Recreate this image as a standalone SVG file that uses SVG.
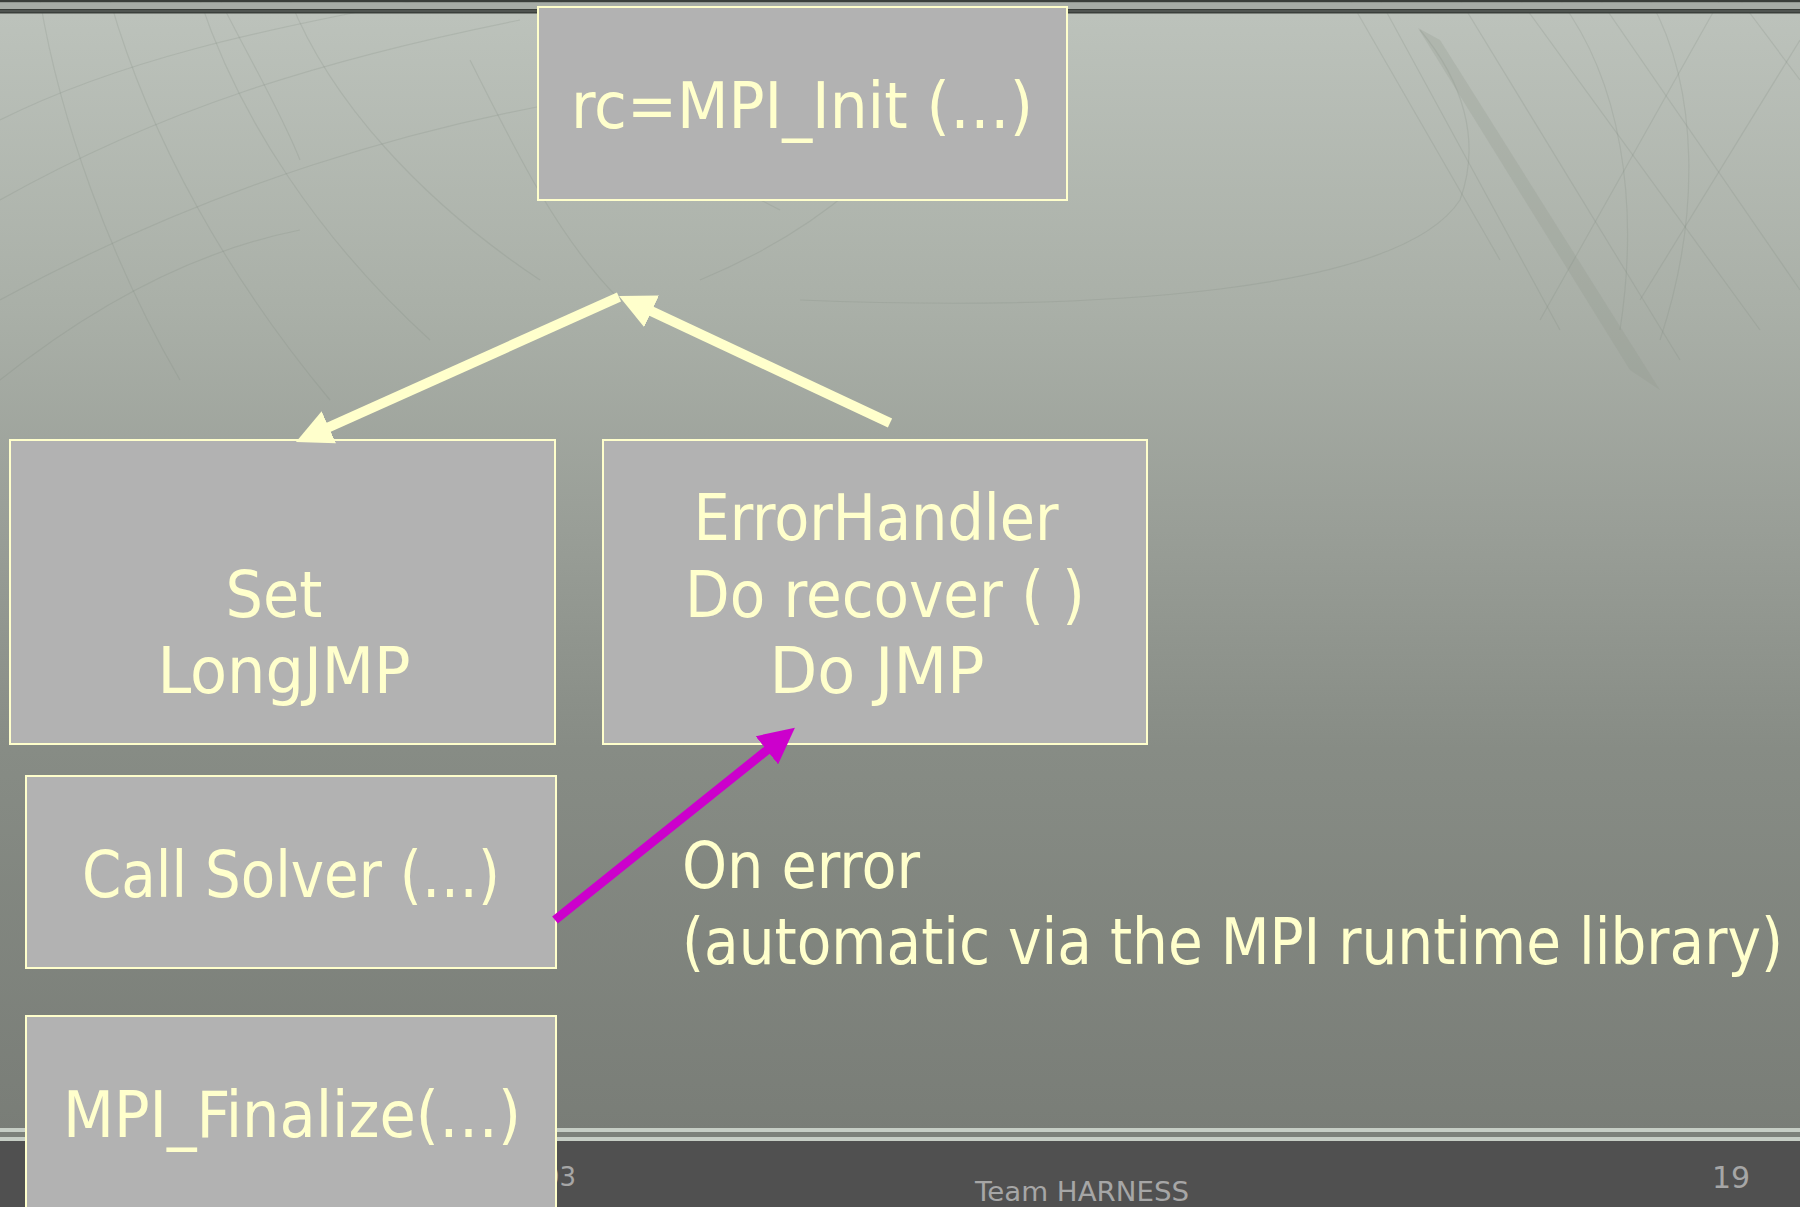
<svg xmlns="http://www.w3.org/2000/svg" width="1800" height="1207" viewBox="0 0 1800 1207">
  <defs>
    <linearGradient id="bg" x1="0" y1="0" x2="0" y2="1207" gradientUnits="userSpaceOnUse">
      <stop offset="0" stop-color="#bdc3bc"/>
      <stop offset="0.25" stop-color="#aab0a8"/>
      <stop offset="0.45" stop-color="#989d96"/>
      <stop offset="0.62" stop-color="#878c85"/>
      <stop offset="0.94" stop-color="#797d77"/>
      <stop offset="1" stop-color="#797d77"/>
    </linearGradient>
    <marker id="headYellow" viewBox="0 -18 36 36" refX="16" refY="0" markerWidth="36" markerHeight="36" markerUnits="userSpaceOnUse" orient="auto">
      <path d="M0,-17.5 L36,0 L0,17.5 Z" fill="#ffffcc"/>
    </marker>
    <marker id="headMagenta" viewBox="0 -18 36 36" refX="16" refY="0" markerWidth="36" markerHeight="36" markerUnits="userSpaceOnUse" orient="auto">
      <path d="M0,-18 L36,0 L0,18 Z" fill="#cc00cc"/>
    </marker>
  </defs>
  <style>
    .box { fill: #b2b2b2; stroke: #ffffcc; stroke-width: 2; }
    .lbl { font-family: "DejaVu Sans Condensed", "DejaVu Sans", "Liberation Sans", sans-serif; font-stretch: condensed; font-size: 64px; fill: #ffffcc; }
    .mid { text-anchor: middle; }
    .foot { font-family: "DejaVu Sans", "Liberation Sans", sans-serif; fill: #a6a6a6; }
    .web { fill: none; stroke: #7e867c; stroke-width: 1.2; opacity: 0.2; }
    .yarrow { stroke: #ffffcc; stroke-width: 10; fill: none; marker-end: url(#headYellow); }
    .marrow { stroke: #cc00cc; stroke-width: 9; fill: none; marker-end: url(#headMagenta); }
  </style>

  <!-- slide background -->
  <rect x="0" y="0" width="1800" height="1207" fill="url(#bg)"/>

  <!-- faint web ornament -->
  <g id="ornament">
    <path class="web" d="M800,300 C1100,312 1400,292 1460,200 C1482,140 1462,80 1420,30"/>
    <path d="M1418,28 L1440,40 L1660,390 L1630,370 Z" fill="#8f978d" opacity="0.25"/>
    <path class="web" d="M1350,0 L1500,260"/>
    <path class="web" d="M1380,0 L1560,330"/>
    <path class="web" d="M1460,0 L1680,360"/>
    <path class="web" d="M1520,0 L1760,330"/>
    <path class="web" d="M1600,0 L1800,290"/>
    <path class="web" d="M1740,0 L1800,80"/>
    <path class="web" d="M1720,0 L1540,320"/>
    <path class="web" d="M1800,40 L1640,300"/>
    <path class="web" d="M1560,0 C1620,80 1640,200 1620,330"/>
    <path class="web" d="M1650,0 C1700,90 1700,220 1660,340"/>
    <path class="web" d="M0,120 C120,60 260,30 420,0"/>
    <path class="web" d="M0,200 C160,110 320,60 520,20"/>
    <path class="web" d="M40,0 C60,120 110,260 180,380"/>
    <path class="web" d="M110,0 C150,140 230,280 330,400"/>
    <path class="web" d="M200,0 C240,120 320,240 430,340"/>
    <path class="web" d="M290,0 C330,100 420,200 540,280"/>
    <path class="web" d="M0,300 C200,190 420,120 640,90"/>
    <path class="web" d="M470,60 C520,160 560,240 620,300"/>
    <path class="web" d="M560,0 C600,90 680,160 780,210"/>
    <path class="web" d="M0,380 C100,300 200,250 300,230"/>
    <path class="web" d="M220,0 C250,60 280,110 300,160"/>
    <path class="web" d="M700,280 C820,230 900,160 960,60"/>
  </g>

  <!-- header rules -->
  <rect x="0" y="0" width="1800" height="2.5" fill="#3a3f3b"/>
  <rect x="0" y="2.5" width="1800" height="6.5" fill="#a7ada7"/>
  <rect x="0" y="9" width="1800" height="4.5" fill="#3a3f3b"/>
  <rect x="0" y="10.5" width="1800" height="1" fill="#656b66"/>

  <!-- footer band -->
  <rect x="0" y="1128" width="1800" height="4" fill="#c6cec5"/>
  <rect x="0" y="1132" width="1800" height="5" fill="#7c817a"/>
  <rect x="0" y="1137" width="1800" height="4" fill="#c6cec5"/>
  <rect x="0" y="1141" width="1800" height="66" fill="#505050"/>
  <text class="foot" x="576" y="1186" font-size="26" text-anchor="end">03</text>
  <text class="foot mid" x="1082" y="1201" font-size="26" textLength="214" lengthAdjust="spacingAndGlyphs">Team HARNESS</text>
  <text class="foot mid" x="1731" y="1188" font-size="30">19</text>

  <!-- nodes -->
  <g id="mpi-init">
    <rect class="box" x="538" y="7" width="529" height="193"/>
    <text class="lbl mid" x="802" y="128" textLength="462" lengthAdjust="spacingAndGlyphs">rc=MPI_Init (…)</text>
  </g>
  <g id="set-longjmp">
    <rect class="box" x="10" y="440" width="545" height="304"/>
    <text class="lbl mid" x="274" y="617" textLength="97" lengthAdjust="spacingAndGlyphs">Set</text>
    <text class="lbl mid" x="284" y="693" textLength="253" lengthAdjust="spacingAndGlyphs">LongJMP</text>
  </g>
  <g id="error-handler">
    <rect class="box" x="603" y="440" width="544" height="304"/>
    <text class="lbl mid" x="876" y="540" textLength="365" lengthAdjust="spacingAndGlyphs">ErrorHandler</text>
    <text class="lbl mid" x="885" y="617" textLength="400" lengthAdjust="spacingAndGlyphs">Do recover ( )</text>
    <text class="lbl mid" x="877" y="693" textLength="215" lengthAdjust="spacingAndGlyphs">Do JMP</text>
  </g>
  <g id="call-solver">
    <rect class="box" x="26" y="776" width="530" height="192"/>
    <text class="lbl mid" x="291" y="897" textLength="418" lengthAdjust="spacingAndGlyphs">Call Solver (…)</text>
  </g>
  <g id="mpi-finalize">
    <rect class="box" x="26" y="1016" width="530" height="200"/>
    <text class="lbl mid" x="292" y="1137" textLength="458" lengthAdjust="spacingAndGlyphs">MPI_Finalize(…)</text>
  </g>

  <!-- annotation -->
  <g id="on-error-note">
    <text class="lbl" x="682" y="888" textLength="238" lengthAdjust="spacingAndGlyphs">On error</text>
    <text class="lbl" x="682" y="964" textLength="1101" lengthAdjust="spacingAndGlyphs">(automatic via the MPI runtime library)</text>
  </g>

  <!-- connectors -->
  <g id="connectors">
    <!-- init -> set longjmp -->
    <line class="yarrow" x1="619" y1="297" x2="314.2" y2="433.8"/>
    <!-- error handler -> init -->
    <line class="yarrow" x1="890" y1="423" x2="637.1" y2="304.5"/>
    <!-- solver error -> error handler -->
    <line class="marrow" x1="555" y1="920" x2="779.3" y2="740.3"/>
  </g>
</svg>
